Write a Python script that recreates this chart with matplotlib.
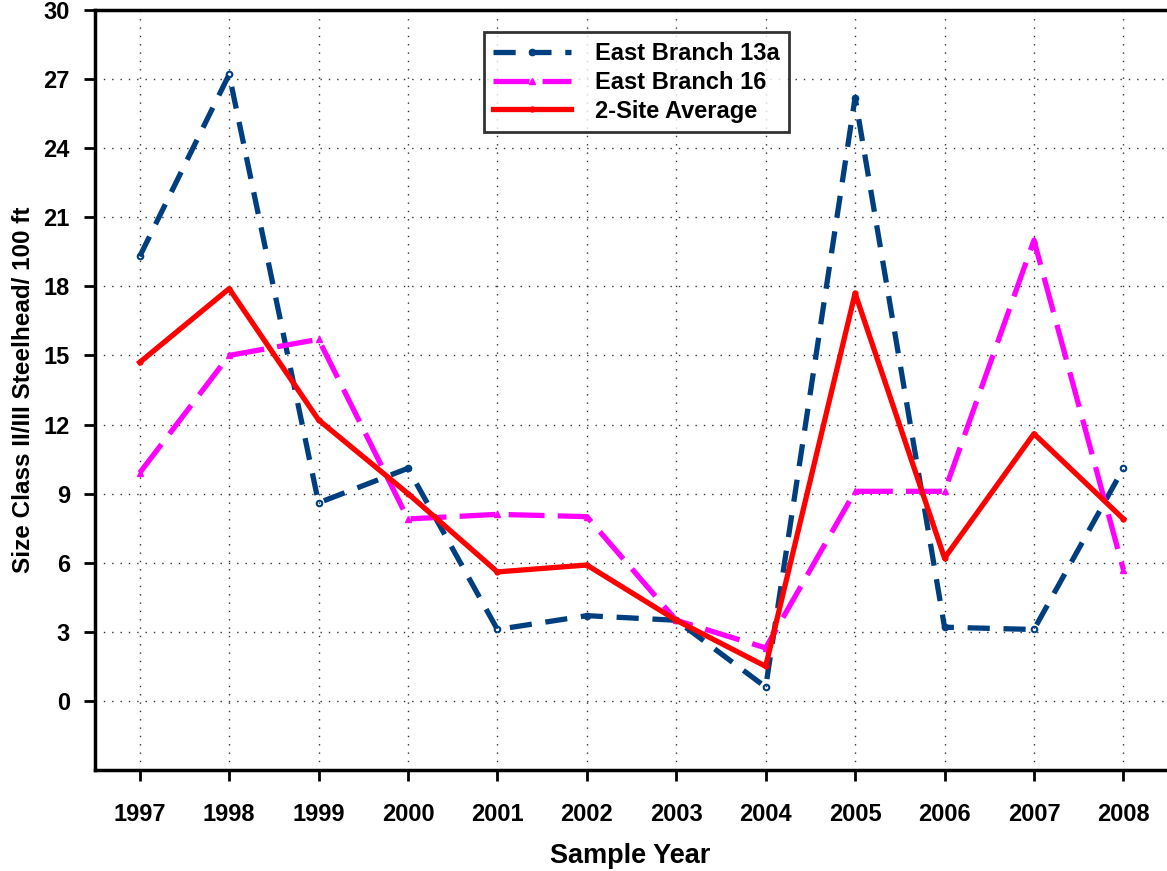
import matplotlib
matplotlib.use("Agg")
import matplotlib.pyplot as plt

# Data
years = [1997, 1998, 1999, 2000, 2001, 2002, 2003, 2004, 2005, 2006, 2007, 2008]
east_13a = [19.3, 27.2, 8.6, 10.1, 3.1, 3.7, 3.5, 0.6, 26.2, 3.2, 3.1, 10.1]
east_16 = [9.9, 15.0, 15.7, 7.9, 8.1, 8.0, 3.5, 2.3, 9.1, 9.1, 20.0, 5.7]
site_avg = [14.7, 17.9, 12.2, 9.0, 5.6, 5.9, 3.5, 1.5, 17.7, 6.2, 11.6, 7.9]
y_ticks = [0, 3, 6, 9, 12, 15, 18, 21, 24, 27, 30]

plt.rcParams['font.family'] = ['Liberation Sans', 'DejaVu Sans']
plt.rcParams['font.weight'] = 'bold'

fig = plt.figure(figsize=(11.67, 8.71), dpi=100)
ax = fig.add_axes([0.0814, 0.116, 0.918, 0.8725])

ax.plot(years, east_13a, color='#003f7f', linewidth=3.8, dashes=(4.2, 2.6),
        marker='o', markersize=4, markerfacecolor='none', markeredgewidth=1.5,
        label='East Branch 13a', zorder=3)
ax.plot(years, east_16, color='#ff00ff', linewidth=3.8, dashes=(6.8, 2.5),
        marker='^', markersize=4, label='East Branch 16', zorder=3)
ax.plot(years, site_avg, color='#ff0000', linewidth=3.8,
        marker='o', markersize=3.5, label='2-Site Average', zorder=4)

ax.set_xlim(1996.5, 2008.48)
ax.set_ylim(-3, 30)
ax.set_xticks(years)
ax.set_yticks(y_ticks)
ax.tick_params(axis='both', direction='out', length=8, width=2, labelsize=17)
ax.tick_params(axis='x', pad=16)
ax.tick_params(axis='y', pad=10)
for lbl in ax.get_xticklabels() + ax.get_yticklabels():
    lbl.set_fontweight('bold')

ax.grid(True, linestyle=(0, (1, 5)), color='#333333', linewidth=1)
for s in ax.spines.values():
    s.set_linewidth(2.5)
ax.spines['right'].set_visible(False)

ax.set_xlabel('Sample Year', fontsize=19.5, fontweight='bold', labelpad=12)
ax.set_ylabel('Size Class II/III Steelhead/ 100 ft', fontsize=17.5, fontweight='bold', labelpad=6)

leg = ax.legend(loc='upper left', bbox_to_anchor=(0.352, 0.986), fontsize=17,
                frameon=True, fancybox=False, handlelength=3.3, borderpad=0.4,
                labelspacing=0.25, handletextpad=1.0)
leg.get_frame().set_edgecolor('black')
leg.get_frame().set_linewidth(2)

fig.savefig('out.png', dpi=100)
